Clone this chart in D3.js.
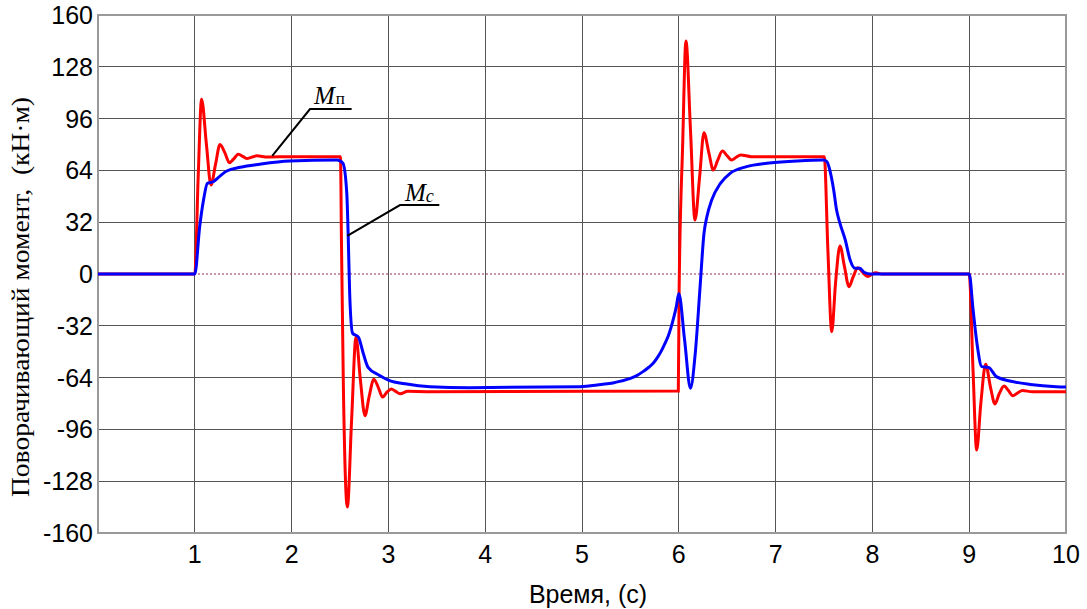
<!DOCTYPE html>
<html>
<head>
<meta charset="utf-8">
<script src="https://cdn.jsdelivr.net/npm/d3@7"></script>
<style>
body { margin: 0; background: #fff; }
</style>
</head>
<body>
<div id="myVis"></div>
<script>
// M_п (red)
const tRed = [0, 1.0, 1.035, 1.07, 1.12, 1.167, 1.215, 1.26, 1.31, 1.357, 1.40, 1.45, 1.5, 1.54, 1.64, 1.75, 2.0, 2.505,
  2.515, 2.535, 2.576, 2.62, 2.665, 2.71, 2.758, 2.80, 2.85, 2.895, 2.94, 2.985, 3.03, 3.075, 3.12, 3.2, 3.4, 5.995,
  6.003, 6.04, 6.074, 6.12, 6.167, 6.215, 6.26, 6.31, 6.357, 6.40, 6.45, 6.5, 6.545, 6.59, 6.64, 6.75, 7.0, 7.503,
  7.54, 7.58, 7.62, 7.665, 7.71, 7.758, 7.80, 7.85, 7.9, 7.95, 8.03, 8.1, 9.0,
  9.04, 9.077, 9.12, 9.17, 9.22, 9.266, 9.31, 9.36, 9.405, 9.45, 9.5, 9.55, 9.65, 10]
const mRed = [0, 0, 60, 108, 80, 55, 68, 80, 75, 68.8, 71, 74, 72.5, 71.3, 73, 72.3, 72.5, 72.5,
  20, -70, -144, -90, -39, -65, -87.5, -76, -65, -70, -76, -73, -71, -72.5, -74, -72.5, -72.7, -72.3,
  -12, 80, 144, 90, 33.4, 60, 87.3, 75, 64.2, 70, 76, 73, 70.4, 72, 73.5, 72.5, 72.5, 72.5,
  15, -35.6, -5, 17.3, 5, -7.8, -2, 3.9, 1, -1.6, 0.8, 0, 0,
  -60, -108.7, -80, -55.8, -70, -80.3, -74, -69.2, -72, -75.2, -73.5, -72, -72.7, -72.7]

// M_c (blue)
const tBlue = [0, 1.0, 1.05, 1.09, 1.13, 1.19, 1.26, 1.33, 1.47, 1.67, 1.98, 2.47, 2.53, 2.57, 2.585, 2.6, 2.63, 2.69,
  2.74, 2.79, 2.9, 3.0, 3.19, 3.43, 3.84, 4.98, 5.2, 5.32, 5.4, 5.5, 5.57, 5.63, 5.69, 5.74, 5.78, 5.82, 5.86, 5.89,
  5.92, 5.95, 5.975, 6.0, 6.06, 6.12, 6.17, 6.22,
  6.26, 6.29, 6.34, 6.43, 6.53, 6.7, 6.91, 7.22, 7.49, 7.53, 7.56, 7.6, 7.63, 7.665, 7.72, 7.77, 7.82, 7.87, 7.92, 7.98,
  9.0, 9.04, 9.08, 9.13, 9.2, 9.28, 9.42, 9.63, 9.9, 10]
const mBlue = [0, 0, 29, 45.7, 56, 57, 60.5, 63.6, 65.9, 67.8, 69.8, 70.4, 68.4, 50, 23, -12, -36.6, -39,
  -49, -57.7, -62.4, -65.5, -68, -69.6, -70.2, -69.6, -68.2, -67.3, -66.2, -64.5, -62.6, -60.3, -57.6, -54.8, -51.5, -47.5, -42.5, -38.5,
  -33, -26.4, -20, -12, -40.8, -70.6, -49, -7.8,
  25, 35.4, 45.7, 56, 62.2, 66.3, 68.4, 69.8, 70.4, 69.4, 64.2, 51.9, 39.5, 31.3, 21, 8.6, 3.5, 3.5, 0.8, 0,
  0, -22, -42.8, -57.2, -57.7, -63.4, -66.1, -68.2, -69.6, -69.8]

const xTicks = [1, 2, 3, 4, 5, 6, 7, 8, 9, 10]
const yTicks = [-160, -128, -96, -64, -32, 0, 32, 64, 96, 128, 160]

// leader lines for the labels, in data units
const leadRed = [[1.80, 72.9], [2.19, 101.9], [2.62, 101.9]]
const leadBlue = [[2.575, 23.5], [3.12, 42.6], [3.526, 42.6]]

const W = 1087, H = 609
const margin = {top: 15, right: 21, bottom: 76, left: 98}

const svg = d3.select("#myVis")
  .append("svg")
  .attr("width", W)
  .attr("height", H)
  .style("background-color", "white")

const x = d3.scaleLinear().domain([0, 10]).range([margin.left, W - margin.right])
const y = d3.scaleLinear().domain([-160, 160]).range([H - margin.bottom, margin.top])

// grid
svg.append("g")
  .selectAll("line")
  .data(xTicks.slice(0, -1))
  .enter().append("line")
  .attr("x1", d => x(d)).attr("x2", d => x(d))
  .attr("y1", y(160)).attr("y2", y(-160))
  .attr("stroke", "#555").attr("stroke-width", 1)
  .attr("shape-rendering", "crispEdges")

svg.append("g")
  .selectAll("line")
  .data(yTicks.filter(d => d != 160 && d != -160 && d != 0))
  .enter().append("line")
  .attr("x1", x(0)).attr("x2", x(10))
  .attr("y1", d => y(d)).attr("y2", d => y(d))
  .attr("stroke", "#555").attr("stroke-width", 1)
  .attr("shape-rendering", "crispEdges")

// zero line
svg.append("line")
  .attr("x1", x(0)).attr("x2", x(10))
  .attr("y1", y(0)).attr("y2", y(0))
  .attr("stroke", "#9a2a5a").attr("stroke-width", 1)
  .attr("stroke-dasharray", "2,2")

// frame
svg.append("rect")
  .attr("x", x(0)).attr("y", y(160))
  .attr("width", x(10) - x(0)).attr("height", y(-160) - y(160))
  .attr("fill", "none").attr("stroke", "#999").attr("stroke-width", 2)

// tick labels
svg.append("g")
  .selectAll("text")
  .data(yTicks)
  .enter().append("text")
  .attr("x", x(0) - 5)
  .attr("y", d => y(d))
  .attr("dy", "0.36em")
  .attr("text-anchor", "end")
  .style("font-family", "Liberation Sans, Arial, sans-serif")
  .style("font-size", "25px")
  .text(d => d)

svg.append("g")
  .selectAll("text")
  .data(xTicks)
  .enter().append("text")
  .attr("x", d => x(d))
  .attr("y", 563)
  .attr("text-anchor", "middle")
  .style("font-family", "Liberation Sans, Arial, sans-serif")
  .style("font-size", "25px")
  .text(d => d)

// axis titles
svg.append("text")
  .attr("x", 588).attr("y", 603)
  .attr("text-anchor", "middle")
  .style("font-family", "Liberation Sans, Arial, sans-serif")
  .style("font-size", "25px")
  .text("Время, (с)")

svg.append("text")
  .attr("transform", "translate(29,297) rotate(-90)")
  .attr("text-anchor", "middle")
  .attr("textLength", 400)
  .attr("lengthAdjust", "spacingAndGlyphs")
  .style("font-family", "Liberation Serif, Times New Roman, serif")
  .style("font-size", "25px")
  .style("white-space", "pre")
  .text("Поворачивающий момент,  (кН·м)")

// curves
const line = d3.line()
  .x(d => x(d[0]))
  .y(d => y(d[1]))
  .curve(d3.curveMonotoneX)

svg.append("path")
  .datum(tRed.map((t, i) => [t, mRed[i]]))
  .attr("d", line)
  .attr("fill", "none").attr("stroke", "#ff0000").attr("stroke-width", 3)

svg.append("path")
  .datum(tBlue.map((t, i) => [t, mBlue[i]]))
  .attr("d", line)
  .attr("fill", "none").attr("stroke", "#0000ff").attr("stroke-width", 3)

// labels
const lead = d3.line().x(d => x(d[0])).y(d => y(d[1]))
svg.append("path").attr("d", lead(leadRed))
  .attr("fill", "none").attr("stroke", "black").attr("stroke-width", 2)
svg.append("path").attr("d", lead(leadBlue))
  .attr("fill", "none").attr("stroke", "black").attr("stroke-width", 2)

const lblRed = svg.append("text")
  .attr("x", x(leadRed[1][0]) + 4).attr("y", y(leadRed[1][1]) - 5)
  .style("font-family", "Liberation Serif, Times New Roman, serif")
  .style("font-size", "25px")
lblRed.append("tspan").style("font-style", "italic").text("M")
lblRed.append("tspan").style("font-size", "17px").attr("dx", 1).text("п")

const lblBlue = svg.append("text")
  .attr("x", x(leadBlue[1][0]) + 5).attr("y", y(leadBlue[1][1]) - 4)
  .style("font-family", "Liberation Serif, Times New Roman, serif")
  .style("font-size", "25px")
lblBlue.append("tspan").style("font-style", "italic").text("M")
lblBlue.append("tspan").style("font-style", "italic").style("font-size", "18px").attr("dy", 1).text("c")
</script>
</body>
</html>
